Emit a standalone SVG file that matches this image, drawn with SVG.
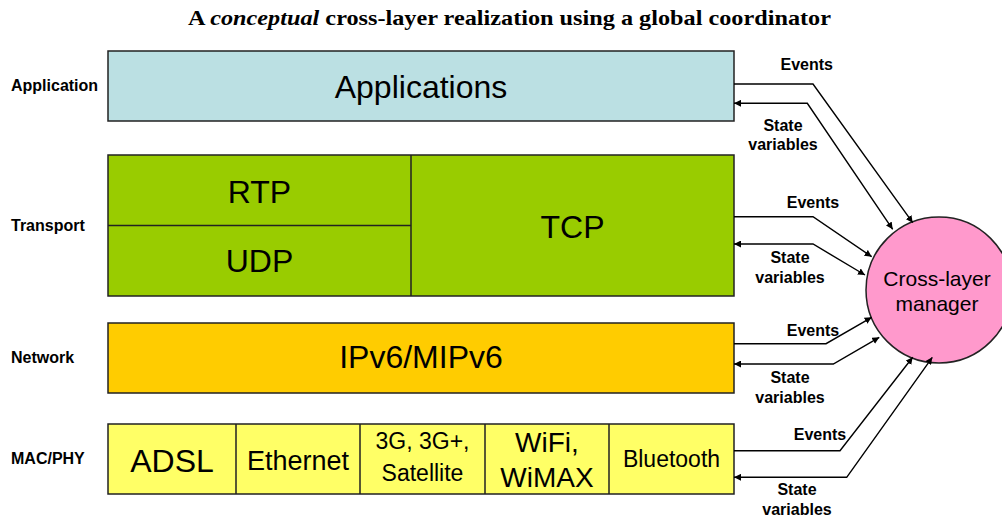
<svg xmlns="http://www.w3.org/2000/svg" width="1002" height="519" viewBox="0 0 1002 519">
  <style>
    .title { font-family: "Liberation Serif", serif; font-weight: bold; font-size: 22px; fill: #000; }
    .lbl { font-family: "Liberation Sans", Arial, sans-serif; font-weight: bold; font-size: 16px; fill: #000; }
    .big { font-family: "Liberation Sans", Arial, sans-serif; font-size: 32px; fill: #000; text-anchor: middle; }
    .cell { font-family: "Liberation Sans", Arial, sans-serif; fill: #000; text-anchor: middle; }
    .box { stroke: #222; stroke-width: 1.5; }
    .div { stroke: #222; stroke-width: 1.5; fill: none; }
    .conn { fill: none; stroke: #000; stroke-width: 1.4; }
    .mid { text-anchor: middle; }
  </style>
  <defs>
    <marker id="arrow" viewBox="0 0 10 10" refX="10" refY="5" markerWidth="7" markerHeight="7" markerUnits="userSpaceOnUse" orient="auto-start-reverse">
      <path d="M0,0 L10,5 L0,10 z" fill="#000"/>
    </marker>
  </defs>

  <rect width="1002" height="519" fill="#fff"/>

  <text class="title" x="188" y="25" textLength="643" lengthAdjust="spacingAndGlyphs">A <tspan font-style="italic">conceptual</tspan> cross-layer realization using a global coordinator</text>

  <!-- layer names -->
  <g id="layer-names" class="lbl">
    <text x="11" y="91">Application</text>
    <text x="11" y="231">Transport</text>
    <text x="11" y="363">Network</text>
    <text x="11" y="464">MAC/PHY</text>
  </g>

  <!-- application layer -->
  <g id="application">
    <rect class="box" x="108" y="51" width="626" height="70" fill="#BBE0E3"/>
    <text class="big" x="421" y="98">Applications</text>
  </g>

  <!-- transport layer -->
  <g id="transport">
    <rect class="box" x="108" y="155" width="626" height="141" fill="#99CC00"/>
    <path class="div" d="M411,155 V296 M108,225.5 H411"/>
    <text class="big" x="259.5" y="203">RTP</text>
    <text class="big" x="259.5" y="272">UDP</text>
    <text class="big" x="572.5" y="238">TCP</text>
  </g>

  <!-- network layer -->
  <g id="network">
    <rect class="box" x="108" y="323" width="626" height="70" fill="#FFCC00"/>
    <text class="big" x="421" y="368">IPv6/MIPv6</text>
  </g>

  <!-- link / physical layer -->
  <g id="mac-phy">
    <rect class="box" x="108" y="424" width="626" height="70" fill="#FFFF66"/>
    <path class="div" d="M236,424 V494 M360,424 V494 M485,424 V494 M609,424 V494"/>
    <text class="cell" x="172" y="472" font-size="32">ADSL</text>
    <text class="cell" x="298" y="470" font-size="27">Ethernet</text>
    <text class="cell" x="422.5" y="449" font-size="23">3G, 3G+,</text>
    <text class="cell" x="422.5" y="481" font-size="23">Satellite</text>
    <text class="cell" x="547" y="452" font-size="28">WiFi,</text>
    <text class="cell" x="547" y="487" font-size="28">WiMAX</text>
    <text class="cell" x="671.5" y="467" font-size="23">Bluetooth</text>
  </g>

  <!-- coordinator -->
  <g id="cross-layer-manager">
    <circle cx="939" cy="290" r="73" fill="#FF99CC" stroke="#222" stroke-width="1.5"/>
    <text class="cell" x="937" y="286" font-size="21">Cross-layer</text>
    <text class="cell" x="937" y="311" font-size="21">manager</text>
  </g>

  <!-- events and state variables exchanged with the manager -->
  <g id="connectors">
    <path class="conn" d="M734,84 H813 L912.7,222.7" marker-end="url(#arrow)"/>
    <path class="conn" d="M892.7,229.3 L807.3,103.3 H734" marker-start="url(#arrow)" marker-end="url(#arrow)"/>
    <path class="conn" d="M734,216.7 H813 L871.7,256.7" marker-end="url(#arrow)"/>
    <path class="conn" d="M865,275 L813,244 H734" marker-start="url(#arrow)" marker-end="url(#arrow)"/>
    <path class="conn" d="M734,343.7 H826 L871.7,317.3" marker-end="url(#arrow)"/>
    <path class="conn" d="M879.3,337.3 L833.3,364 H734" marker-start="url(#arrow)" marker-end="url(#arrow)"/>
    <path class="conn" d="M734,450.7 H840 L912.7,357.3" marker-end="url(#arrow)"/>
    <path class="conn" d="M932.3,357.3 L846.7,477.3 H734" marker-start="url(#arrow)" marker-end="url(#arrow)"/>
  </g>

  <!-- connector labels -->
  <g id="connector-labels" class="lbl mid">
    <text x="806.7" y="70">Events</text>
    <text x="783" y="131">State</text>
    <text x="783" y="150">variables</text>
    <text x="813" y="208">Events</text>
    <text x="790" y="263">State</text>
    <text x="790" y="283">variables</text>
    <text x="813" y="336">Events</text>
    <text x="790" y="383">State</text>
    <text x="790" y="403">variables</text>
    <text x="820" y="440">Events</text>
    <text x="797" y="495">State</text>
    <text x="797" y="515">variables</text>
  </g>
</svg>
